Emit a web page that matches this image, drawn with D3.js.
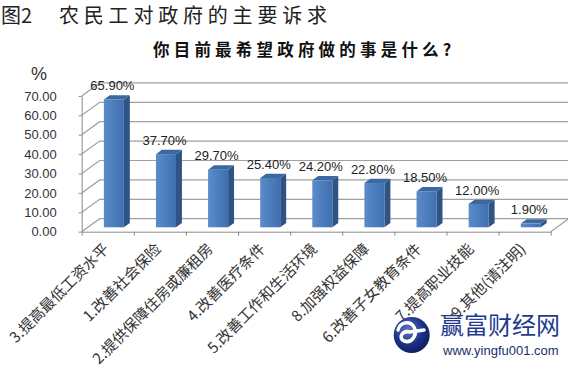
<!DOCTYPE html>
<html>
<head>
<meta charset="utf-8">
<script src="https://cdn.jsdelivr.net/npm/d3@7"></script>
<style>
body{margin:0;background:#fff;}
</style>
</head>
<body>
<svg id="chart" width="568" height="374"></svg>
<script>
var categories=["3.提高最低工资水平","1.改善社会保险","2.提供保障住房或廉租房","4.改善医疗条件",
  "5.改善工作和生活环境","8.加强权益保障","6.改善子女教育条件","7.提高职业技能","9.其他(请注明)"];
var values=[65.9,37.7,29.7,25.4,24.2,22.8,18.5,12.0,1.9];
var yTickValues=[0,10,20,30,40,50,60,70];

var svg=d3.select("#chart");
var x0=81.7,x1=550.7,floorY=231.7;
var depth=[18,-13]; // oblique offset front->back of the floor
var barFront=0.34,barBack=0.67;

var x=d3.scaleBand().domain(categories).range([x0,x1]).paddingInner(0.616).paddingOuter(0.308);
var y=d3.scaleLinear().domain([0,70]).range([floorY,floorY-135.8]);
var idx=d3.scaleLinear().domain([0,categories.length]).range([x0,x1]);

var defs=svg.append("defs");
var g1=defs.append("linearGradient").attr("id","barfront").attr("x1","0").attr("x2","1").attr("y1","0").attr("y2","0");
g1.append("stop").attr("offset","0%").attr("stop-color","#5a8bca");
g1.append("stop").attr("offset","100%").attr("stop-color","#3f6fae");
var g2=defs.append("radialGradient").attr("id","logo").attr("cx","0.4").attr("cy","0.35").attr("r","0.7");
g2.append("stop").attr("offset","0%").attr("stop-color","#5d78c4");
g2.append("stop").attr("offset","60%").attr("stop-color","#1c2f86");
g2.append("stop").attr("offset","100%").attr("stop-color","#0d1a5a");

// titles
svg.append("text").attr("x",1).attr("y",23)
  .style("font-family","'Noto Sans CJK SC'").style("font-size","20px").attr("fill","#222")
  .text("图2");
svg.append("text").attr("x",59).attr("y",23)
  .style("font-family","'Noto Sans CJK SC'").style("font-size","20px").style("letter-spacing","4.8px").attr("fill","#222")
  .text("农民工对政府的主要诉求");
svg.append("text").attr("x",153).attr("y",56)
  .style("font-family","'Noto Sans CJK SC'").style("font-size","16.5px").style("font-weight","bold")
  .style("letter-spacing","4.2px").attr("fill","#111")
  .text("你目前最希望政府做的事是什么?");

// walls: gridlines
var grid=svg.append("g").attr("stroke","#a0a0a0").attr("stroke-width",1.2).attr("fill","none");
yTickValues.forEach(function(v){
  grid.append("path").attr("d","M"+x0+","+y(v)+"L"+(x0+depth[0])+","+(y(v)+depth[1])+"L"+(x1+depth[0])+","+(y(v)+depth[1]));
});
// floor right edge
grid.append("path").attr("d","M"+x1+","+floorY+"L"+(x1+depth[0])+","+(floorY+depth[1]));

// y axis
var yAxis=svg.append("g").attr("transform","translate("+x0+",0)")
  .call(d3.axisLeft(y).tickValues(yTickValues).tickFormat(d3.format(".2f")).tickSize(3).tickSizeOuter(0).tickPadding(22));
yAxis.select(".domain").attr("stroke","#8a8a8a");
yAxis.selectAll(".tick line").attr("stroke","#8a8a8a");
yAxis.selectAll("text").style("font-family","'Liberation Sans'").style("font-size","13px").attr("fill","#333");

svg.append("text").attr("x",39).attr("y",80).attr("text-anchor","middle")
  .style("font-family","'Liberation Sans'").style("font-size","18px").attr("fill","#333").text("%");

// floor front axis
var xAxis=svg.append("g").attr("transform","translate(0,"+floorY+")")
  .call(d3.axisBottom(idx).ticks(categories.length).tickFormat("").tickSize(4).tickSizeOuter(0));
xAxis.select(".domain").attr("stroke","#8a8a8a");
xAxis.selectAll(".tick line").attr("stroke","#8a8a8a");

// bars
var dd=[depth[0]*(barBack-barFront),depth[1]*(barBack-barFront)];
var bars=svg.append("g").selectAll("g").data(categories).join("g");
function bx(d){return x(d)+depth[0]*barFront;}
var by=floorY+depth[1]*barFront;
function barTop(d,i){return by-(y(0)-y(values[i]));}
var w=x.bandwidth();

bars.append("path").attr("fill","#2f5384")
  .attr("d",function(d,i){var l=bx(d)+w,t=barTop(d,i);
    return "M"+l+","+by+"L"+(l+dd[0])+","+(by+dd[1])+"L"+(l+dd[0])+","+(t+dd[1])+"L"+l+","+t+"Z";});
bars.append("path").attr("fill","#3c68a2")
  .attr("d",function(d,i){var l=bx(d),t=barTop(d,i);
    return "M"+l+","+t+"L"+(l+w)+","+t+"L"+(l+w+dd[0])+","+(t+dd[1])+"L"+(l+dd[0])+","+(t+dd[1])+"Z";});
bars.append("rect").attr("fill","url(#barfront)")
  .attr("x",function(d){return bx(d);}).attr("y",function(d,i){return barTop(d,i);})
  .attr("width",w).attr("height",function(d,i){return y(0)-y(values[i]);});

bars.append("text").attr("text-anchor","middle")
  .attr("x",function(d){return bx(d)+w/2-1.5;})
  .attr("y",function(d,i){return barTop(d,i)+dd[1]-5;})
  .style("font-family","'Liberation Sans'").style("font-size","13px").attr("fill","#222")
  .text(function(d,i){return d3.format(".2f")(values[i])+"%";});

// category labels
svg.append("g").selectAll("text").data(categories).join("text")
  .attr("text-anchor","end")
  .attr("transform",function(d){return "translate("+(x(d)+w/2+2)+",250) rotate(-45)";})
  .style("font-family","'Noto Sans CJK SC'").style("font-size","15px").attr("fill","#333")
  .text(function(d){return d;});

// watermark
var wm=svg.append("g");
wm.append("circle").attr("cx",411.7).attr("cy",335).attr("r",18).attr("fill","url(#logo)");
wm.append("path").attr("fill","none").attr("stroke","#fff").attr("stroke-width",3.5).attr("stroke-linecap","round")
  .attr("d","M398,330 C400,322 410,320 414,327 C418,334 412,344 404,341 C398,338 402,330 410,332 L424,330");
wm.append("text").attr("x",440).attr("y",334)
  .style("font-family","'Noto Sans CJK SC'").style("font-size","24px").attr("fill","#1f3a8f")
  .text("赢富财经网");
wm.append("text").attr("x",443).attr("y",355)
  .style("font-family","'Liberation Sans'").style("font-size","13px").attr("fill","#1a2f6e")
  .text("www.yingfu001.com");
</script>
</body>
</html>
